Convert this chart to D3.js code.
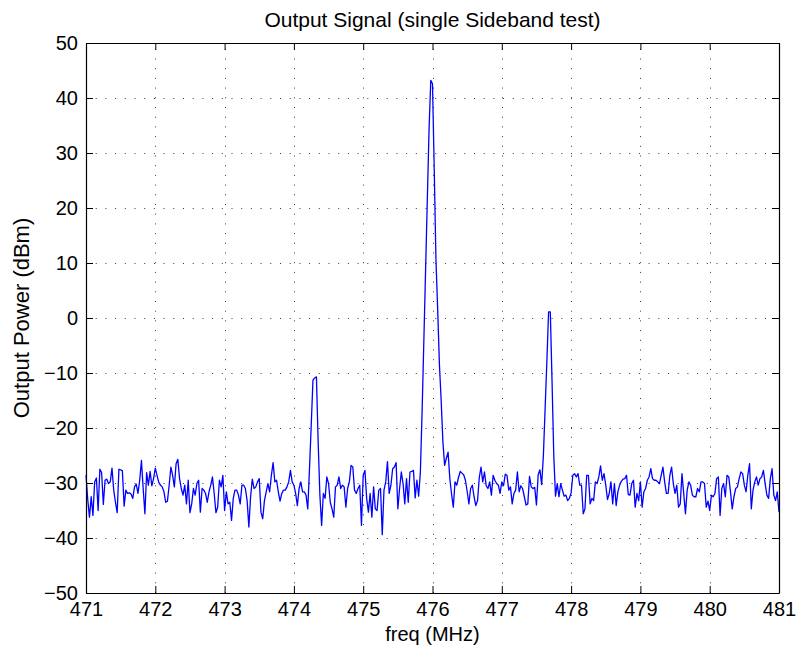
<!DOCTYPE html>
<html><head><meta charset="utf-8">
<script src="https://cdn.jsdelivr.net/npm/d3@7"></script>
<style>html,body{margin:0;padding:0;background:#fff;} svg{display:block;font-family:"Liberation Sans",Arial,Helvetica,sans-serif;}</style>
</head><body><svg id="chart" width="796" height="646"></svg>
<script>
const title = "Output Signal (single Sideband test)";
const xLabel = "freq (MHz)";
const yLabel = "Output Power (dBm)";
const freqStart = 471, freqEnd = 481;
const xTicks = [471, 472, 473, 474, 475, 476, 477, 478, 479, 480, 481];
const yTicks = [-50, -40, -30, -20, -10, 0, 10, 20, 30, 40, 50];
const powerDbm = [
  -28.6, -33, -36.2, -32.5, -35.9, -29.8, -29.1, -35, -27.5, -28.1,
  -33.9, -29.5, -29.3, -30.1, -29.8, -27.3, -31.3, -33.5, -35.4, -27.5,
  -27.6, -27.8, -34.2, -31.3, -31.9, -31.8, -32, -32.8, -30.7, -30.2,
  -31.9, -29.5, -25.9, -31, -35.6, -28.1, -30.4, -27.9, -30.5, -29.2,
  -27.3, -28.6, -29.9, -30.4, -30.7, -31.6, -33.5, -33.3, -30.4, -27.1,
  -28.6, -30.7, -26.5, -25.7, -29.2, -31, -32.2, -30.4, -33.8, -29.5,
  -35.4, -33.8, -31, -32.2, -30.1, -29.5, -35.3, -31, -31.3, -31.9,
  -33.5, -31.6, -30.4, -28.9, -31.9, -35.4, -34.4, -29.5, -30.7, -28.6,
  -35, -31.6, -33.8, -33.5, -36.8, -32.8, -31.3, -31.3, -32.2, -33.8,
  -30.4, -30.4, -31, -33.2, -38, -32.5, -29.3, -31, -30.7, -29.8,
  -29.2, -35.3, -36.5, -33.2, -31.6, -30.1, -31.6, -28.6, -26.3, -29.8,
  -29.5, -31.6,
  -33.3, -31.9, -31.3, -31.3, -30.7, -29.8, -27.7, -29.8, -30.4, -31.9,
  -34.1, -31, -29.8, -31.6, -31.6, -32.2, -34.7, -27.4, -19.5, -11.3,
  -10.9, -10.7, -22.5, -32.2, -37.7, -31.9, -32.8, -28.9, -30.1, -33.5,
  -34.7, -36.2, -30.7, -30.4, -28.9, -31, -30.4, -30.7, -34.4, -31,
  -29.8, -26.8, -27.1, -31.3, -31.9, -31, -30.4, -37.7, -28.6, -27.7,
  -32.8, -35.3, -31.9, -36.2, -30.7, -34.7, -35, -31.3, -31,
  -39.4, -31.3, -29.8, -26.1, -31.9, -30.4, -27.4, -27.1, -26.3, -34.7,
  -31, -28, -30.1, -33.8, -29.2, -33.5, -28, -27.9, -27.7, -32.7,
  -29.5, -32.4, -28,
  -17, -4.2, 8.6, 21.4, 34.2, 43.2, 42.6, 27, 10.5, 1.5, -8.5, -15, -22.5,
  -26.8, -25.5, -24.4, -29.2, -32, -34.4, -29.8, -30.4, -29, -27.9,
  -28.2, -28.5, -29.5, -31.5, -33.8, -31, -30.4, -32.5, -34.1, -33.2,
  -29, -27.1, -29.8, -28, -30.5, -31, -29.8, -32.2, -28.6, -29.5,
  -30.1, -30.4, -31.9, -29.8, -30.5, -28.4, -28.6, -31.3, -30.7, -33.8,
  -31.9, -31.3, -28, -31.6, -30.5, -31,
  -32.5, -34, -33.8, -28.8, -30.7, -31, -30.8, -34, -28.5, -27.6,
  -30.3, -25, -16.5, -8, 1.1, 1.1, -11.5, -25, -32.4, -30.1,
  -32.5, -30.1, -31.3, -32.4, -32.2, -33.2, -32.8, -31.8, -28.6, -28.3,
  -28.9, -28.3, -30.4, -30.4, -35.6, -34.7, -28.6, -28.6, -33.8, -32.8,
  -33.2, -29.8, -30.1, -28.9, -26.9, -29.5, -28.3, -30.4, -33, -31.9,
  -29.8, -33.8, -30.1, -34.1, -31.6, -30.4, -29.7, -29.3, -29.2, -28.6,
  -32.1, -32.2, -30.1, -29.5, -34.4, -31.9, -33.2, -29.8, -34.4, -31.6,
  -31, -29.5, -28.9, -27.4, -29.2, -29.5, -29.5, -29.8, -30.1, -28.6,
  -27.1, -29.8, -31.9, -31.9, -28.6, -27.1, -30.1, -31.9, -30.4, -34.4,
  -33.8, -28.3, -31.9, -35.6, -31.3, -29.8, -30.4, -32.2, -32.5, -32.5,
  -31, -31.6, -29.8, -29.8, -30.1, -34.4, -33.3, -35, -32.2, -32.5,
  -31.9, -29.2, -28.9, -35.9, -31, -30.1, -32.5, -28.6, -28.9, -31.6,
  -34.7, -32.5, -31, -30.7, -29.2, -28, -28.3, -30.4, -31.6, -28.6,
  -26.5, -34.7, -31.3, -29.8, -28.9, -30.4, -29.2, -28.9, -27.7, -30.1,
  -32.2, -32.8, -29.2, -27.4, -32.2, -33.2, -31.6, -35.3
];

// sample grid (uniform frequency spacing across the span)
const step = (freqEnd - freqStart) / (powerDbm.length - 1);
const data = powerDbm.map((p, i) => ({ f: freqStart + i * step, p }));

const W = 796, H = 646;
const plot = { left: 86, right: 779, top: 43, bottom: 593 };
const svg = d3.select("#chart");
svg.append("rect").attr("width", W).attr("height", H).attr("fill", "#fff");

const x = d3.scaleLinear().domain([freqStart, freqEnd]).range([plot.left, plot.right]);
const y = d3.scaleLinear().domain([yTicks[0], yTicks[yTicks.length - 1]]).range([plot.bottom, plot.top]);

// grid
const grid = svg.append("g").attr("stroke", "#3a3a3a").attr("stroke-width", 1).attr("stroke-dasharray", "1,8.7");
grid.selectAll(".gx").data(xTicks.slice(1, -1)).join("line")
  .attr("x1", d => Math.round(x(d)) + 0.5).attr("x2", d => Math.round(x(d)) + 0.5)
  .attr("y1", plot.bottom).attr("y2", plot.top);
grid.selectAll(".gy").data(yTicks.slice(1, -1)).join("line")
  .attr("y1", d => Math.round(y(d)) + 0.5).attr("y2", d => Math.round(y(d)) + 0.5)
  .attr("x1", plot.left).attr("x2", plot.right);

// trace
const line = d3.line().x(d => x(d.f)).y(d => y(d.p));
svg.append("path").datum(data).attr("d", line)
  .attr("fill", "none").attr("stroke", "#0000ff").attr("stroke-width", 1.3)
  .attr("stroke-linejoin", "round");

// axes
const fmt = d3.format("d");
const tickFont = 20;
function style(g) {
  g.selectAll("path.domain").attr("stroke", "#000").attr("stroke-width", 1.2);
  g.selectAll(".tick line").attr("stroke", "#000").attr("stroke-width", 1);
  g.selectAll("text").attr("fill", "#000").attr("font-size", tickFont)
    .attr("font-family", '"Liberation Sans", Arial, sans-serif');
}
svg.append("g").attr("transform", `translate(0,${plot.bottom})`)
  .call(d3.axisBottom(x).tickValues(xTicks).tickFormat(fmt).tickSizeInner(-7).tickSizeOuter(0).tickPadding(9))
  .call(style);
svg.append("g").attr("transform", `translate(0,${plot.top})`)
  .call(d3.axisTop(x).tickValues(xTicks).tickFormat("").tickSizeInner(-7).tickSizeOuter(0))
  .call(style);
svg.append("g").attr("transform", `translate(${plot.left},0)`)
  .call(d3.axisLeft(y).tickValues(yTicks).tickFormat(fmt).tickSizeInner(-7).tickSizeOuter(0).tickPadding(8))
  .call(style);
svg.append("g").attr("transform", `translate(${plot.right},0)`)
  .call(d3.axisRight(y).tickValues(yTicks).tickFormat("").tickSizeInner(-7).tickSizeOuter(0))
  .call(style);

// titles
svg.append("text").attr("x", (plot.left + plot.right) / 2).attr("y", 27)
  .attr("text-anchor", "middle").attr("font-size", 21).attr("fill", "#000").text(title);
svg.append("text").attr("x", (plot.left + plot.right) / 2).attr("y", 641)
  .attr("text-anchor", "middle").attr("font-size", 20).attr("fill", "#000").text(xLabel);
svg.append("text").attr("transform", `translate(29,${(plot.top + plot.bottom) / 2}) rotate(-90)`)
  .attr("text-anchor", "middle").attr("font-size", 22).attr("fill", "#000").text(yLabel);
</script></body></html>
